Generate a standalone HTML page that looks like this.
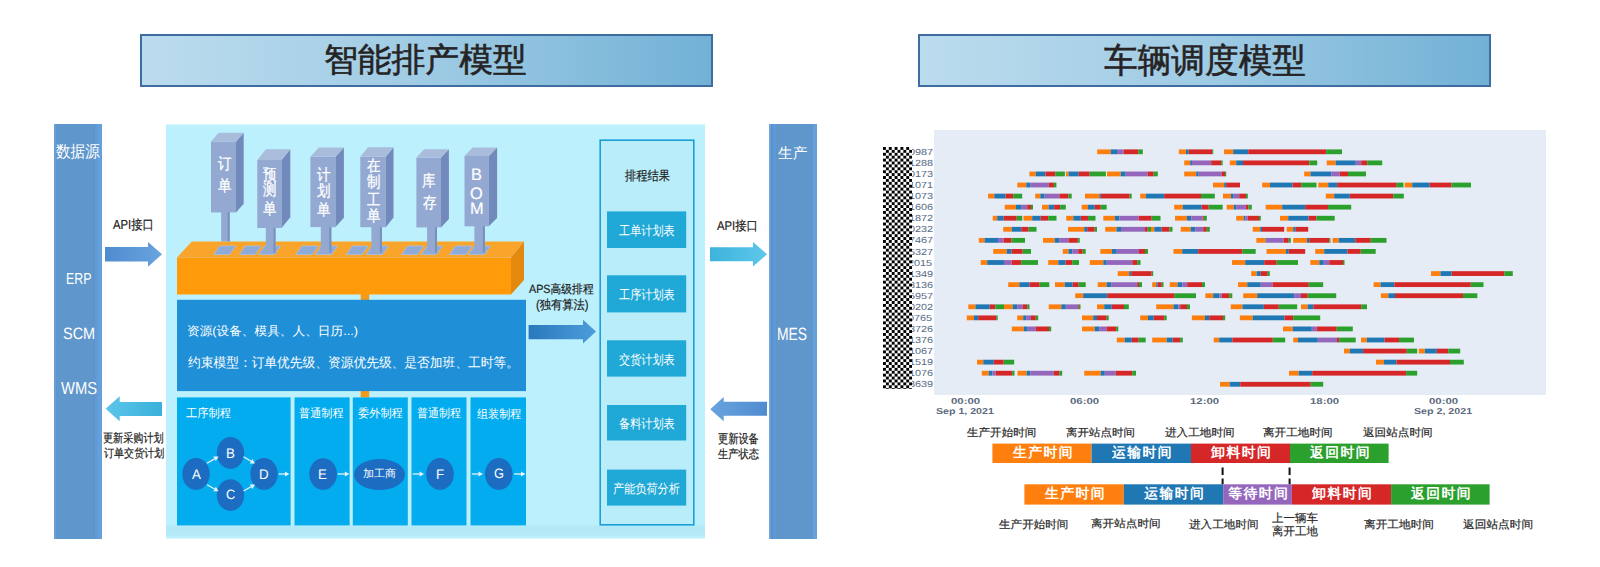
<!DOCTYPE html>
<html><head><meta charset="utf-8"><title>model</title>
<style>
html,body{margin:0;padding:0;background:#fff;}
body{width:1600px;height:567px;overflow:hidden;position:relative;font-family:"Liberation Sans",sans-serif;text-rendering:geometricPrecision;}
.a{position:absolute;white-space:nowrap;}
.w{color:#fff;}
.k{color:#222;}
.ttl{position:absolute;box-sizing:border-box;border:2px solid #3d6e9f;background:linear-gradient(90deg,#bcdcee 0%,#9fcbe4 50%,#72b1d6 100%);color:#262324;font-size:34px;line-height:49px;text-align:center;}
.vt{position:absolute;color:#fff;font-size:15px;line-height:15px;text-align:center;}
.vt span{display:block;}
.hd{font-size:13px;line-height:13px;color:#fff;}
.rb{position:absolute;background:#27a7d8;color:#fff;font-size:13px;text-align:center;}
.sm{font-size:12px;line-height:12px;color:#222;}
.ax{font-size:11px;line-height:11px;color:#5b6b80;font-weight:bold;}
.yl{font-size:10.5px;line-height:10px;color:#55667f;}
.lg{position:absolute;color:#fff;font-weight:bold;font-size:15px;line-height:20px;text-align:center;}
.ll{font-size:12px;line-height:12px;color:#2a2a2a;}
</style></head><body>

<div class="ttl" style="left:140px;top:34px;width:573px;height:53px"></div>
<div class="ttl" style="left:918px;top:34px;width:573px;height:53px"></div>
<svg class="a" style="left:0;top:0" width="1600" height="567" viewBox="0 0 1600 567">
<defs>
<linearGradient id="gA" x1="0" x2="1" y1="0" y2="0"><stop offset="0" stop-color="#4f8bcf"/><stop offset="1" stop-color="#69a4df"/></linearGradient>
<linearGradient id="gC" x1="0" x2="1" y1="0" y2="0"><stop offset="0" stop-color="#3db3dc"/><stop offset="1" stop-color="#5ec8ea"/></linearGradient>
<linearGradient id="gCL" x1="0" x2="1" y1="0" y2="0"><stop offset="0" stop-color="#5cc6ea"/><stop offset="1" stop-color="#3ab0da"/></linearGradient>
<linearGradient id="gAL" x1="0" x2="1" y1="0" y2="0"><stop offset="0" stop-color="#69a4df"/><stop offset="1" stop-color="#4f8bcf"/></linearGradient>
<linearGradient id="gAPS" x1="0" x2="1" y1="0" y2="0"><stop offset="0" stop-color="#2a78bd"/><stop offset="1" stop-color="#4d9ddb"/></linearGradient>
</defs>
<rect x="54" y="124" width="48" height="415" fill="#5f96cb"/>
<rect x="54" y="124" width="2" height="415" fill="#6a9fd6"/>
<rect x="93.4" y="124" width="1.2" height="415" fill="#6d8fb6"/>
<rect x="94.6" y="124" width="2.6" height="415" fill="#5a9ae0"/>
<rect x="97.2" y="124" width="4.8" height="415" fill="#66a0d8"/>
<rect x="769" y="124" width="48" height="415" fill="#5f96cb"/>
<rect x="769" y="124" width="2" height="415" fill="#6aa6dc"/>
<rect x="771" y="124" width="2" height="415" fill="#5b90c8"/>
<rect x="773" y="124" width="3" height="415" fill="#5a9ae0"/>
<rect x="776" y="124" width="1" height="415" fill="#7090b0"/>
<rect x="813" y="124" width="4" height="415" fill="#66a0da"/>
<rect x="166" y="124.5" width="539" height="414" fill="#bcf0fd"/>
<polygon points="105,247 148,247 148,241.9 162,254.35 148,266.8 148,261.6 105,261.6" fill="url(#gA)"/>
<polygon points="710,247.2 753,247.2 753,241.9 767,254.25 753,266.6 753,261.3 710,261.3" fill="url(#gC)"/>
<polygon points="162,402 119.7,402 119.7,396.3 105.6,408.8 119.7,421.3 119.7,416 162,416" fill="url(#gCL)"/>
<polygon points="767,401.8 723.7,401.8 723.7,397 710.2,409.15 723.7,421.3 723.7,415.7 767,415.7" fill="url(#gAL)"/>
<polygon points="528.6,325 583,325 583,319.7 596,331.6 583,343.5 583,339.3 528.6,339.3" fill="url(#gAPS)"/>
<rect x="166" y="525.5" width="539" height="10" fill="#b1e5f4" opacity="0.7"/>
<polygon points="191.8,241.4 524,241.4 511,257.5 177,257.5" fill="#f9a52c"/>
<rect x="177" y="257.5" width="334" height="37" fill="#ff9b0b"/>
<polygon points="511,257.5 524,241.4 524,280 511,294.5" fill="#e2890e"/>
<polygon points="213.8,254.5 219.8,246 235.7,246 229.7,254.5" fill="#8eaad9" stroke="#a9c0e6" stroke-width="0.8"/>
<polygon points="239.4,254.5 245.4,246 261.2,246 255.2,254.5" fill="#8eaad9" stroke="#a9c0e6" stroke-width="0.8"/>
<polygon points="258.8,254.5 264.8,246 280.5,246 274.5,254.5" fill="#8eaad9" stroke="#a9c0e6" stroke-width="0.8"/>
<polygon points="295.9,254.5 301.9,246 318.3,246 312.3,254.5" fill="#8eaad9" stroke="#a9c0e6" stroke-width="0.8"/>
<polygon points="315.6,254.5 321.6,246 337.5,246 331.5,254.5" fill="#8eaad9" stroke="#a9c0e6" stroke-width="0.8"/>
<polygon points="346.4,254.5 352.4,246 368,246 362,254.5" fill="#8eaad9" stroke="#a9c0e6" stroke-width="0.8"/>
<polygon points="366.1,254.5 372.1,246 388.5,246 382.5,254.5" fill="#8eaad9" stroke="#a9c0e6" stroke-width="0.8"/>
<polygon points="401.5,254.5 407.5,246 423.5,246 417.5,254.5" fill="#8eaad9" stroke="#a9c0e6" stroke-width="0.8"/>
<polygon points="421.2,254.5 427.2,246 442.5,246 436.5,254.5" fill="#8eaad9" stroke="#a9c0e6" stroke-width="0.8"/>
<polygon points="449.4,254.5 455.4,246 472,246 466,254.5" fill="#8eaad9" stroke="#a9c0e6" stroke-width="0.8"/>
<polygon points="468.5,254.5 474.5,246 490.5,246 484.5,254.5" fill="#8eaad9" stroke="#a9c0e6" stroke-width="0.8"/>
<rect x="221.2" y="210.4" width="8.5" height="31" fill="#93a9d2"/>
<rect x="227.7" y="210.4" width="2" height="31" fill="#7890c0"/>
<rect x="265.8" y="226" width="9.7" height="26.9" fill="#93a9d2"/>
<rect x="273.5" y="226" width="2" height="26.9" fill="#7890c0"/>
<rect x="320.8" y="225.1" width="10.5" height="27.5" fill="#93a9d2"/>
<rect x="329.3" y="225.1" width="2" height="27.5" fill="#7890c0"/>
<rect x="371.4" y="225.2" width="10.5" height="27.4" fill="#93a9d2"/>
<rect x="379.9" y="225.2" width="2" height="27.4" fill="#7890c0"/>
<rect x="427.1" y="225.4" width="9.9" height="27.2" fill="#93a9d2"/>
<rect x="435" y="225.4" width="2" height="27.2" fill="#7890c0"/>
<rect x="474.4" y="224.3" width="10.5" height="28.3" fill="#93a9d2"/>
<rect x="482.9" y="224.3" width="2" height="28.3" fill="#7890c0"/>
<rect x="211" y="141.5" width="25" height="70.9" fill="#93a9d2"/>
<polygon points="236,141.5 243.7,132.8 243.7,203.7 236,212.4" fill="#7289bc"/>
<polygon points="211,141.5 218.7,132.8 243.7,132.8 236,141.5" fill="#a9bcdc"/>
<rect x="257.3" y="160" width="24.3" height="68" fill="#93a9d2"/>
<polygon points="281.6,160 290.3,149.3 290.3,217.3 281.6,228" fill="#7289bc"/>
<polygon points="257.3,160 266,149.3 290.3,149.3 281.6,160" fill="#a9bcdc"/>
<rect x="310.4" y="156.8" width="25.1" height="70.3" fill="#93a9d2"/>
<polygon points="335.5,156.8 343.9,147.5 343.9,217.8 335.5,227.1" fill="#7289bc"/>
<polygon points="310.4,156.8 318.8,147.5 343.9,147.5 335.5,156.8" fill="#a9bcdc"/>
<rect x="360.3" y="156.8" width="25.5" height="70.4" fill="#93a9d2"/>
<polygon points="385.8,156.8 393.5,147.2 393.5,217.6 385.8,227.2" fill="#7289bc"/>
<polygon points="360.3,156.8 368,147.2 393.5,147.2 385.8,156.8" fill="#a9bcdc"/>
<rect x="416.4" y="157.6" width="24.6" height="69.8" fill="#93a9d2"/>
<polygon points="441,157.6 448.9,149.2 448.9,219 441,227.4" fill="#7289bc"/>
<polygon points="416.4,157.6 424.3,149.2 448.9,149.2 441,157.6" fill="#a9bcdc"/>
<rect x="464.5" y="155.9" width="24.3" height="70.4" fill="#93a9d2"/>
<polygon points="488.8,155.9 497.1,147.5 497.1,217.9 488.8,226.3" fill="#7289bc"/>
<polygon points="464.5,155.9 472.8,147.5 497.1,147.5 488.8,155.9" fill="#a9bcdc"/>
<rect x="360.7" y="294" width="8.5" height="6" fill="#f39a1a"/>
<rect x="360.7" y="391" width="8.5" height="6.5" fill="#f39a1a"/>
<rect x="177" y="299.8" width="349" height="91.3" fill="#1f8fd7"/>
<rect x="177" y="397.4" width="113.6" height="128" fill="#03acee"/>
<rect x="294.5" y="397.4" width="55.1" height="128" fill="#03acee"/>
<rect x="352.8" y="397.4" width="55" height="128" fill="#03acee"/>
<rect x="411.5" y="397.4" width="55" height="128" fill="#03acee"/>
<rect x="470.5" y="397.4" width="55.5" height="128" fill="#03acee"/>
<rect x="600.2" y="140.2" width="93.6" height="384.6" fill="#b9edfa" stroke="#1a9fd6" stroke-width="1.6"/>
<rect x="607" y="211.4" width="79.2" height="36.6" fill="#20a9d7"/>
<rect x="607" y="275.3" width="79.2" height="37.1" fill="#20a9d7"/>
<rect x="607" y="340.3" width="79.2" height="36.3" fill="#20a9d7"/>
<rect x="607" y="405" width="79.2" height="35.5" fill="#20a9d7"/>
<rect x="607" y="469.6" width="79.2" height="36" fill="#20a9d7"/>
<ellipse cx="196" cy="474" rx="13.7" ry="15.9" fill="#1c6cc1"/>
<ellipse cx="230.5" cy="453" rx="13.7" ry="15.9" fill="#1c6cc1"/>
<ellipse cx="230.5" cy="495.1" rx="13.7" ry="15.9" fill="#1c6cc1"/>
<ellipse cx="264" cy="474" rx="13.7" ry="15.9" fill="#1c6cc1"/>
<ellipse cx="323.1" cy="474.1" rx="13.8" ry="15.9" fill="#1c6cc1"/>
<ellipse cx="379.5" cy="474.5" rx="25.5" ry="15.4" fill="#1c6cc1"/>
<ellipse cx="440" cy="474" rx="13.8" ry="15.9" fill="#1c6cc1"/>
<ellipse cx="498.8" cy="474" rx="13.8" ry="15.9" fill="#1c6cc1"/>
<line x1="207" y1="463.2" x2="214.6" y2="458.84" stroke="#e8f4ff" stroke-width="1.3"/><polygon points="218.5,456.6 215.89,461.09 213.3,456.58" fill="#e8f4ff"/>
<line x1="207" y1="484.8" x2="214.57" y2="489.01" stroke="#e8f4ff" stroke-width="1.3"/><polygon points="218.5,491.2 213.3,491.28 215.83,486.74" fill="#e8f4ff"/>
<line x1="243.5" y1="456.8" x2="251.11" y2="461.23" stroke="#e8f4ff" stroke-width="1.3"/><polygon points="255,463.5 249.8,463.48 252.42,458.99" fill="#e8f4ff"/>
<line x1="243.5" y1="491" x2="251.07" y2="486.79" stroke="#e8f4ff" stroke-width="1.3"/><polygon points="255,484.6 252.33,489.06 249.8,484.52" fill="#e8f4ff"/>
<line x1="278.7" y1="474" x2="284.9" y2="474" stroke="#e8f4ff" stroke-width="1.3"/><polygon points="289.4,474 284.9,476.6 284.9,471.4" fill="#e8f4ff"/>
<line x1="337.7" y1="474" x2="344.8" y2="474" stroke="#e8f4ff" stroke-width="1.3"/><polygon points="349.3,474 344.8,476.6 344.8,471.4" fill="#e8f4ff"/>
<line x1="412.8" y1="474" x2="419.5" y2="474" stroke="#e8f4ff" stroke-width="1.3"/><polygon points="424,474 419.5,476.6 419.5,471.4" fill="#e8f4ff"/>
<line x1="471.8" y1="474" x2="478.5" y2="474" stroke="#e8f4ff" stroke-width="1.3"/><polygon points="483,474 478.5,476.6 478.5,471.4" fill="#e8f4ff"/>
<line x1="514" y1="474" x2="521" y2="474" stroke="#e8f4ff" stroke-width="1.3"/><polygon points="525.5,474 521,476.6 521,471.4" fill="#e8f4ff"/>
<rect x="934" y="130" width="612" height="265" fill="#e5ecf6"/>
<rect x="1097.2" y="149.4" width="13.5" height="4.8" fill="#ff7f0e"/>
<rect x="1110.7" y="149.4" width="6.3" height="4.8" fill="#1f77b4"/>
<rect x="1117" y="149.4" width="6.7" height="4.8" fill="#9467bd"/>
<rect x="1123.7" y="149.4" width="14.6" height="4.8" fill="#d62728"/>
<rect x="1138.3" y="149.4" width="4.5" height="4.8" fill="#2ca02c"/>
<rect x="1178.8" y="149.4" width="7.2" height="4.8" fill="#ff7f0e"/>
<rect x="1186" y="149.4" width="2.7" height="4.8" fill="#1f77b4"/>
<rect x="1188.7" y="149.4" width="23.5" height="4.8" fill="#d62728"/>
<rect x="1212.2" y="149.4" width="1.1" height="4.8" fill="#2ca02c"/>
<rect x="1224" y="149.4" width="9.2" height="4.8" fill="#ff7f0e"/>
<rect x="1233.2" y="149.4" width="15" height="4.8" fill="#1f77b4"/>
<rect x="1248.2" y="149.4" width="78" height="4.8" fill="#d62728"/>
<rect x="1326.2" y="149.4" width="15.8" height="4.8" fill="#2ca02c"/>
<rect x="1184.2" y="160.47" width="6" height="4.8" fill="#ff7f0e"/>
<rect x="1190.2" y="160.47" width="1.8" height="4.8" fill="#1f77b4"/>
<rect x="1192" y="160.47" width="19.2" height="4.8" fill="#9467bd"/>
<rect x="1211.2" y="160.47" width="10" height="4.8" fill="#d62728"/>
<rect x="1221.2" y="160.47" width="1.5" height="4.8" fill="#2ca02c"/>
<rect x="1229.8" y="160.47" width="6.4" height="4.8" fill="#ff7f0e"/>
<rect x="1236.2" y="160.47" width="6.8" height="4.8" fill="#1f77b4"/>
<rect x="1243" y="160.47" width="66.3" height="4.8" fill="#d62728"/>
<rect x="1309.3" y="160.47" width="7.9" height="4.8" fill="#2ca02c"/>
<rect x="1326.7" y="160.47" width="9" height="4.8" fill="#ff7f0e"/>
<rect x="1335.7" y="160.47" width="20.1" height="4.8" fill="#1f77b4"/>
<rect x="1355.8" y="160.47" width="5.4" height="4.8" fill="#9467bd"/>
<rect x="1361.2" y="160.47" width="6" height="4.8" fill="#d62728"/>
<rect x="1367.2" y="160.47" width="15" height="4.8" fill="#2ca02c"/>
<rect x="1029.4" y="171.54" width="6.3" height="4.8" fill="#ff7f0e"/>
<rect x="1035.7" y="171.54" width="9.7" height="4.8" fill="#1f77b4"/>
<rect x="1045.4" y="171.54" width="9.9" height="4.8" fill="#d62728"/>
<rect x="1055.3" y="171.54" width="9.6" height="4.8" fill="#2ca02c"/>
<rect x="1065.9" y="171.54" width="2.7" height="4.8" fill="#ff7f0e"/>
<rect x="1068.6" y="171.54" width="10.1" height="4.8" fill="#1f77b4"/>
<rect x="1078.7" y="171.54" width="11" height="4.8" fill="#d62728"/>
<rect x="1089.7" y="171.54" width="16.2" height="4.8" fill="#2ca02c"/>
<rect x="1107" y="171.54" width="13.7" height="4.8" fill="#ff7f0e"/>
<rect x="1120.7" y="171.54" width="5" height="4.8" fill="#1f77b4"/>
<rect x="1125.7" y="171.54" width="22" height="4.8" fill="#9467bd"/>
<rect x="1147.7" y="171.54" width="6" height="4.8" fill="#d62728"/>
<rect x="1153.7" y="171.54" width="4.1" height="4.8" fill="#2ca02c"/>
<rect x="1184.2" y="171.54" width="12" height="4.8" fill="#ff7f0e"/>
<rect x="1196.2" y="171.54" width="2.5" height="4.8" fill="#1f77b4"/>
<rect x="1198.7" y="171.54" width="23" height="4.8" fill="#9467bd"/>
<rect x="1221.7" y="171.54" width="3.3" height="4.8" fill="#d62728"/>
<rect x="1225" y="171.54" width="1.2" height="4.8" fill="#2ca02c"/>
<rect x="1304.2" y="171.54" width="6.3" height="4.8" fill="#ff7f0e"/>
<rect x="1310.5" y="171.54" width="20.7" height="4.8" fill="#1f77b4"/>
<rect x="1331.2" y="171.54" width="8.5" height="4.8" fill="#9467bd"/>
<rect x="1339.7" y="171.54" width="8.3" height="4.8" fill="#d62728"/>
<rect x="1348" y="171.54" width="18" height="4.8" fill="#2ca02c"/>
<rect x="1017.3" y="182.61" width="9" height="4.8" fill="#ff7f0e"/>
<rect x="1026.3" y="182.61" width="4.3" height="4.8" fill="#1f77b4"/>
<rect x="1030.6" y="182.61" width="18.2" height="4.8" fill="#9467bd"/>
<rect x="1048.8" y="182.61" width="5.1" height="4.8" fill="#d62728"/>
<rect x="1053.9" y="182.61" width="2.5" height="4.8" fill="#2ca02c"/>
<rect x="1213" y="182.61" width="11.2" height="4.8" fill="#ff7f0e"/>
<rect x="1224.2" y="182.61" width="2" height="4.8" fill="#1f77b4"/>
<rect x="1226.2" y="182.61" width="13.8" height="4.8" fill="#d62728"/>
<rect x="1262.2" y="182.61" width="7.8" height="4.8" fill="#ff7f0e"/>
<rect x="1270" y="182.61" width="22.5" height="4.8" fill="#1f77b4"/>
<rect x="1292.5" y="182.61" width="8.7" height="4.8" fill="#d62728"/>
<rect x="1301.2" y="182.61" width="15.3" height="4.8" fill="#2ca02c"/>
<rect x="1318.3" y="182.61" width="9.9" height="4.8" fill="#ff7f0e"/>
<rect x="1328.2" y="182.61" width="9" height="4.8" fill="#1f77b4"/>
<rect x="1337.2" y="182.61" width="59.5" height="4.8" fill="#d62728"/>
<rect x="1396.7" y="182.61" width="6.8" height="4.8" fill="#2ca02c"/>
<rect x="1404.7" y="182.61" width="7.5" height="4.8" fill="#ff7f0e"/>
<rect x="1412.2" y="182.61" width="17.5" height="4.8" fill="#1f77b4"/>
<rect x="1429.7" y="182.61" width="21.8" height="4.8" fill="#d62728"/>
<rect x="1451.5" y="182.61" width="19.5" height="4.8" fill="#2ca02c"/>
<rect x="988.1" y="193.68" width="6.2" height="4.8" fill="#ff7f0e"/>
<rect x="994.3" y="193.68" width="11.2" height="4.8" fill="#1f77b4"/>
<rect x="1005.5" y="193.68" width="7.7" height="4.8" fill="#d62728"/>
<rect x="1013.2" y="193.68" width="9" height="4.8" fill="#2ca02c"/>
<rect x="1035.2" y="193.68" width="5.1" height="4.8" fill="#ff7f0e"/>
<rect x="1040.3" y="193.68" width="4.4" height="4.8" fill="#1f77b4"/>
<rect x="1044.7" y="193.68" width="14.7" height="4.8" fill="#9467bd"/>
<rect x="1059.4" y="193.68" width="9.2" height="4.8" fill="#d62728"/>
<rect x="1068.6" y="193.68" width="3.1" height="4.8" fill="#2ca02c"/>
<rect x="1085" y="193.68" width="14.3" height="4.8" fill="#ff7f0e"/>
<rect x="1099.3" y="193.68" width="1.5" height="4.8" fill="#1f77b4"/>
<rect x="1100.8" y="193.68" width="28.9" height="4.8" fill="#d62728"/>
<rect x="1129.7" y="193.68" width="2" height="4.8" fill="#2ca02c"/>
<rect x="1140.2" y="193.68" width="5.6" height="4.8" fill="#ff7f0e"/>
<rect x="1145.8" y="193.68" width="18.4" height="4.8" fill="#1f77b4"/>
<rect x="1164.2" y="193.68" width="36.8" height="4.8" fill="#d62728"/>
<rect x="1201" y="193.68" width="13.8" height="4.8" fill="#2ca02c"/>
<rect x="1223" y="193.68" width="8" height="4.8" fill="#ff7f0e"/>
<rect x="1231" y="193.68" width="2.7" height="4.8" fill="#1f77b4"/>
<rect x="1233.7" y="193.68" width="5.5" height="4.8" fill="#9467bd"/>
<rect x="1239.2" y="193.68" width="6.8" height="4.8" fill="#d62728"/>
<rect x="1246" y="193.68" width="1.8" height="4.8" fill="#2ca02c"/>
<rect x="1325.8" y="193.68" width="8.4" height="4.8" fill="#ff7f0e"/>
<rect x="1334.2" y="193.68" width="15.6" height="4.8" fill="#1f77b4"/>
<rect x="1349.8" y="193.68" width="43.5" height="4.8" fill="#d62728"/>
<rect x="1393.3" y="193.68" width="10.5" height="4.8" fill="#2ca02c"/>
<rect x="1004.7" y="204.75" width="11.3" height="4.8" fill="#ff7f0e"/>
<rect x="1016" y="204.75" width="5.7" height="4.8" fill="#1f77b4"/>
<rect x="1021.7" y="204.75" width="5.5" height="4.8" fill="#9467bd"/>
<rect x="1027.2" y="204.75" width="3.8" height="4.8" fill="#d62728"/>
<rect x="1031" y="204.75" width="2" height="4.8" fill="#2ca02c"/>
<rect x="1042" y="204.75" width="6.7" height="4.8" fill="#ff7f0e"/>
<rect x="1048.7" y="204.75" width="5.5" height="4.8" fill="#1f77b4"/>
<rect x="1054.2" y="204.75" width="6" height="4.8" fill="#d62728"/>
<rect x="1060.2" y="204.75" width="5.6" height="4.8" fill="#2ca02c"/>
<rect x="1081.7" y="204.75" width="6.3" height="4.8" fill="#ff7f0e"/>
<rect x="1088" y="204.75" width="6.7" height="4.8" fill="#1f77b4"/>
<rect x="1094.7" y="204.75" width="6" height="4.8" fill="#d62728"/>
<rect x="1100.7" y="204.75" width="6" height="4.8" fill="#2ca02c"/>
<rect x="1174.2" y="204.75" width="8.6" height="4.8" fill="#ff7f0e"/>
<rect x="1182.8" y="204.75" width="18.9" height="4.8" fill="#1f77b4"/>
<rect x="1201.7" y="204.75" width="7" height="4.8" fill="#d62728"/>
<rect x="1208.7" y="204.75" width="14" height="4.8" fill="#2ca02c"/>
<rect x="1226.7" y="204.75" width="7.1" height="4.8" fill="#ff7f0e"/>
<rect x="1233.8" y="204.75" width="2.4" height="4.8" fill="#1f77b4"/>
<rect x="1236.2" y="204.75" width="9.6" height="4.8" fill="#9467bd"/>
<rect x="1245.8" y="204.75" width="2.7" height="4.8" fill="#d62728"/>
<rect x="1248.5" y="204.75" width="3.3" height="4.8" fill="#2ca02c"/>
<rect x="1265.7" y="204.75" width="16.5" height="4.8" fill="#ff7f0e"/>
<rect x="1282.2" y="204.75" width="23" height="4.8" fill="#1f77b4"/>
<rect x="1305.2" y="204.75" width="22.8" height="4.8" fill="#d62728"/>
<rect x="1328" y="204.75" width="23.2" height="4.8" fill="#2ca02c"/>
<rect x="992.7" y="215.82" width="4.5" height="4.8" fill="#ff7f0e"/>
<rect x="997.2" y="215.82" width="6.5" height="4.8" fill="#1f77b4"/>
<rect x="1003.7" y="215.82" width="13" height="4.8" fill="#d62728"/>
<rect x="1016.7" y="215.82" width="5.6" height="4.8" fill="#2ca02c"/>
<rect x="1023.5" y="215.82" width="8.7" height="4.8" fill="#ff7f0e"/>
<rect x="1032.2" y="215.82" width="8.5" height="4.8" fill="#1f77b4"/>
<rect x="1040.7" y="215.82" width="7.5" height="4.8" fill="#d62728"/>
<rect x="1048.2" y="215.82" width="8.3" height="4.8" fill="#2ca02c"/>
<rect x="1066.2" y="215.82" width="7.1" height="4.8" fill="#ff7f0e"/>
<rect x="1073.3" y="215.82" width="7.5" height="4.8" fill="#1f77b4"/>
<rect x="1080.8" y="215.82" width="7.2" height="4.8" fill="#d62728"/>
<rect x="1088" y="215.82" width="7.5" height="4.8" fill="#2ca02c"/>
<rect x="1103.3" y="215.82" width="11.7" height="4.8" fill="#ff7f0e"/>
<rect x="1115" y="215.82" width="4.5" height="4.8" fill="#1f77b4"/>
<rect x="1119.5" y="215.82" width="19.2" height="4.8" fill="#9467bd"/>
<rect x="1138.7" y="215.82" width="13" height="4.8" fill="#d62728"/>
<rect x="1151.7" y="215.82" width="8.8" height="4.8" fill="#2ca02c"/>
<rect x="1175" y="215.82" width="12" height="4.8" fill="#ff7f0e"/>
<rect x="1187" y="215.82" width="4.2" height="4.8" fill="#1f77b4"/>
<rect x="1191.2" y="215.82" width="11.5" height="4.8" fill="#9467bd"/>
<rect x="1202.7" y="215.82" width="1.1" height="4.8" fill="#d62728"/>
<rect x="1203.8" y="215.82" width="3" height="4.8" fill="#2ca02c"/>
<rect x="1236.2" y="215.82" width="7.5" height="4.8" fill="#ff7f0e"/>
<rect x="1243.7" y="215.82" width="1.5" height="4.8" fill="#1f77b4"/>
<rect x="1245.2" y="215.82" width="2.5" height="4.8" fill="#9467bd"/>
<rect x="1247.7" y="215.82" width="11.3" height="4.8" fill="#d62728"/>
<rect x="1259" y="215.82" width="1.8" height="4.8" fill="#2ca02c"/>
<rect x="1280" y="215.82" width="8.2" height="4.8" fill="#ff7f0e"/>
<rect x="1288.2" y="215.82" width="20.3" height="4.8" fill="#1f77b4"/>
<rect x="1308.5" y="215.82" width="7.8" height="4.8" fill="#d62728"/>
<rect x="1316.3" y="215.82" width="18.4" height="4.8" fill="#2ca02c"/>
<rect x="1003.2" y="226.89" width="8.6" height="4.8" fill="#ff7f0e"/>
<rect x="1011.8" y="226.89" width="9.4" height="4.8" fill="#1f77b4"/>
<rect x="1021.2" y="226.89" width="7.5" height="4.8" fill="#d62728"/>
<rect x="1028.7" y="226.89" width="7.8" height="4.8" fill="#2ca02c"/>
<rect x="1068" y="226.89" width="16.2" height="4.8" fill="#ff7f0e"/>
<rect x="1084.2" y="226.89" width="3" height="4.8" fill="#1f77b4"/>
<rect x="1087.2" y="226.89" width="7.5" height="4.8" fill="#d62728"/>
<rect x="1094.7" y="226.89" width="2.3" height="4.8" fill="#2ca02c"/>
<rect x="1105.2" y="226.89" width="11.3" height="4.8" fill="#ff7f0e"/>
<rect x="1116.5" y="226.89" width="4.5" height="4.8" fill="#1f77b4"/>
<rect x="1121" y="226.89" width="24" height="4.8" fill="#9467bd"/>
<rect x="1145" y="226.89" width="2.7" height="4.8" fill="#d62728"/>
<rect x="1147.7" y="226.89" width="3.3" height="4.8" fill="#2ca02c"/>
<rect x="1151" y="226.89" width="3.3" height="4.8" fill="#ff7f0e"/>
<rect x="1154.3" y="226.89" width="7.2" height="4.8" fill="#1f77b4"/>
<rect x="1161.5" y="226.89" width="8" height="4.8" fill="#d62728"/>
<rect x="1169.5" y="226.89" width="3" height="4.8" fill="#2ca02c"/>
<rect x="1180.7" y="226.89" width="10" height="4.8" fill="#ff7f0e"/>
<rect x="1190.7" y="226.89" width="4.5" height="4.8" fill="#1f77b4"/>
<rect x="1195.2" y="226.89" width="8" height="4.8" fill="#9467bd"/>
<rect x="1203.2" y="226.89" width="3.6" height="4.8" fill="#d62728"/>
<rect x="1206.8" y="226.89" width="3" height="4.8" fill="#2ca02c"/>
<rect x="1252.7" y="226.89" width="7.5" height="4.8" fill="#ff7f0e"/>
<rect x="1260.2" y="226.89" width="1.8" height="4.8" fill="#1f77b4"/>
<rect x="1262" y="226.89" width="22.2" height="4.8" fill="#d62728"/>
<rect x="1286.7" y="226.89" width="6.5" height="4.8" fill="#ff7f0e"/>
<rect x="1293.2" y="226.89" width="2.5" height="4.8" fill="#1f77b4"/>
<rect x="1295.7" y="226.89" width="12.5" height="4.8" fill="#d62728"/>
<rect x="978.8" y="237.96" width="5.7" height="4.8" fill="#ff7f0e"/>
<rect x="984.5" y="237.96" width="13.5" height="4.8" fill="#1f77b4"/>
<rect x="998" y="237.96" width="5.7" height="4.8" fill="#9467bd"/>
<rect x="1003.7" y="237.96" width="7.8" height="4.8" fill="#d62728"/>
<rect x="1011.5" y="237.96" width="13.5" height="4.8" fill="#2ca02c"/>
<rect x="1043" y="237.96" width="11.7" height="4.8" fill="#ff7f0e"/>
<rect x="1054.7" y="237.96" width="4.5" height="4.8" fill="#1f77b4"/>
<rect x="1059.2" y="237.96" width="9.3" height="4.8" fill="#9467bd"/>
<rect x="1068.5" y="237.96" width="9.3" height="4.8" fill="#d62728"/>
<rect x="1077.8" y="237.96" width="1.9" height="4.8" fill="#2ca02c"/>
<rect x="1256.3" y="237.96" width="9.4" height="4.8" fill="#ff7f0e"/>
<rect x="1265.7" y="237.96" width="1.1" height="4.8" fill="#1f77b4"/>
<rect x="1266.8" y="237.96" width="16.9" height="4.8" fill="#9467bd"/>
<rect x="1283.7" y="237.96" width="5" height="4.8" fill="#d62728"/>
<rect x="1288.7" y="237.96" width="2.1" height="4.8" fill="#2ca02c"/>
<rect x="1293.2" y="237.96" width="13.8" height="4.8" fill="#ff7f0e"/>
<rect x="1307" y="237.96" width="2.2" height="4.8" fill="#1f77b4"/>
<rect x="1309.2" y="237.96" width="20.3" height="4.8" fill="#d62728"/>
<rect x="1329.5" y="237.96" width="1" height="4.8" fill="#2ca02c"/>
<rect x="1332.5" y="237.96" width="6.3" height="4.8" fill="#ff7f0e"/>
<rect x="1338.8" y="237.96" width="16.5" height="4.8" fill="#1f77b4"/>
<rect x="1355.3" y="237.96" width="15.4" height="4.8" fill="#d62728"/>
<rect x="1370.7" y="237.96" width="15.8" height="4.8" fill="#2ca02c"/>
<rect x="993.2" y="249.03" width="13.5" height="4.8" fill="#ff7f0e"/>
<rect x="1006.7" y="249.03" width="4.8" height="4.8" fill="#1f77b4"/>
<rect x="1011.5" y="249.03" width="11.2" height="4.8" fill="#d62728"/>
<rect x="1022.7" y="249.03" width="8.3" height="4.8" fill="#2ca02c"/>
<rect x="1062.8" y="249.03" width="5.7" height="4.8" fill="#ff7f0e"/>
<rect x="1068.5" y="249.03" width="3.7" height="4.8" fill="#1f77b4"/>
<rect x="1072.2" y="249.03" width="6" height="4.8" fill="#9467bd"/>
<rect x="1078.2" y="249.03" width="4.5" height="4.8" fill="#d62728"/>
<rect x="1082.7" y="249.03" width="3" height="4.8" fill="#2ca02c"/>
<rect x="1100.3" y="249.03" width="11.7" height="4.8" fill="#ff7f0e"/>
<rect x="1112" y="249.03" width="4.8" height="4.8" fill="#1f77b4"/>
<rect x="1116.8" y="249.03" width="22.2" height="4.8" fill="#9467bd"/>
<rect x="1139" y="249.03" width="6" height="4.8" fill="#d62728"/>
<rect x="1145" y="249.03" width="3" height="4.8" fill="#2ca02c"/>
<rect x="1173.5" y="249.03" width="8.7" height="4.8" fill="#ff7f0e"/>
<rect x="1182.2" y="249.03" width="16" height="4.8" fill="#1f77b4"/>
<rect x="1198.2" y="249.03" width="44" height="4.8" fill="#d62728"/>
<rect x="1242.2" y="249.03" width="13.5" height="4.8" fill="#2ca02c"/>
<rect x="1266.5" y="249.03" width="19.5" height="4.8" fill="#ff7f0e"/>
<rect x="1286" y="249.03" width="2.7" height="4.8" fill="#1f77b4"/>
<rect x="1288.7" y="249.03" width="16.5" height="4.8" fill="#d62728"/>
<rect x="1315.2" y="249.03" width="9" height="4.8" fill="#ff7f0e"/>
<rect x="1324.2" y="249.03" width="23.3" height="4.8" fill="#1f77b4"/>
<rect x="1347.5" y="249.03" width="13.2" height="4.8" fill="#d62728"/>
<rect x="1360.7" y="249.03" width="15" height="4.8" fill="#2ca02c"/>
<rect x="980.7" y="260.1" width="6.5" height="4.8" fill="#ff7f0e"/>
<rect x="987.2" y="260.1" width="16.8" height="4.8" fill="#1f77b4"/>
<rect x="1004" y="260.1" width="7.5" height="4.8" fill="#9467bd"/>
<rect x="1011.5" y="260.1" width="9.7" height="4.8" fill="#d62728"/>
<rect x="1021.2" y="260.1" width="16.8" height="4.8" fill="#2ca02c"/>
<rect x="1048.2" y="260.1" width="10.1" height="4.8" fill="#ff7f0e"/>
<rect x="1058.3" y="260.1" width="7.2" height="4.8" fill="#1f77b4"/>
<rect x="1065.5" y="260.1" width="6.7" height="4.8" fill="#d62728"/>
<rect x="1072.2" y="260.1" width="6.8" height="4.8" fill="#2ca02c"/>
<rect x="1089.8" y="260.1" width="13.5" height="4.8" fill="#ff7f0e"/>
<rect x="1103.3" y="260.1" width="3.4" height="4.8" fill="#1f77b4"/>
<rect x="1106.7" y="260.1" width="25.5" height="4.8" fill="#9467bd"/>
<rect x="1132.2" y="260.1" width="5" height="4.8" fill="#d62728"/>
<rect x="1137.2" y="260.1" width="3.3" height="4.8" fill="#2ca02c"/>
<rect x="1232" y="260.1" width="13.2" height="4.8" fill="#ff7f0e"/>
<rect x="1245.2" y="260.1" width="19" height="4.8" fill="#1f77b4"/>
<rect x="1264.2" y="260.1" width="12.5" height="4.8" fill="#d62728"/>
<rect x="1276.7" y="260.1" width="21.3" height="4.8" fill="#2ca02c"/>
<rect x="1310.3" y="260.1" width="9" height="4.8" fill="#ff7f0e"/>
<rect x="1319.3" y="260.1" width="4.5" height="4.8" fill="#1f77b4"/>
<rect x="1323.8" y="260.1" width="5.4" height="4.8" fill="#9467bd"/>
<rect x="1329.2" y="260.1" width="13.8" height="4.8" fill="#d62728"/>
<rect x="1343" y="260.1" width="1.5" height="4.8" fill="#2ca02c"/>
<rect x="1117.7" y="271.17" width="11.5" height="4.8" fill="#ff7f0e"/>
<rect x="1129.2" y="271.17" width="2" height="4.8" fill="#1f77b4"/>
<rect x="1131.2" y="271.17" width="20.5" height="4.8" fill="#d62728"/>
<rect x="1151.7" y="271.17" width="1.5" height="4.8" fill="#2ca02c"/>
<rect x="1251.2" y="271.17" width="5.5" height="4.8" fill="#ff7f0e"/>
<rect x="1256.7" y="271.17" width="4.1" height="4.8" fill="#1f77b4"/>
<rect x="1260.8" y="271.17" width="6.9" height="4.8" fill="#d62728"/>
<rect x="1267.7" y="271.17" width="2.1" height="4.8" fill="#2ca02c"/>
<rect x="1431" y="271.17" width="9.5" height="4.8" fill="#ff7f0e"/>
<rect x="1440.5" y="271.17" width="11.2" height="4.8" fill="#1f77b4"/>
<rect x="1451.7" y="271.17" width="52.6" height="4.8" fill="#d62728"/>
<rect x="1504.3" y="271.17" width="8.5" height="4.8" fill="#2ca02c"/>
<rect x="1008.2" y="282.24" width="11.1" height="4.8" fill="#ff7f0e"/>
<rect x="1019.3" y="282.24" width="10.2" height="4.8" fill="#1f77b4"/>
<rect x="1029.5" y="282.24" width="10.2" height="4.8" fill="#d62728"/>
<rect x="1039.7" y="282.24" width="9.6" height="4.8" fill="#2ca02c"/>
<rect x="1055" y="282.24" width="9.7" height="4.8" fill="#ff7f0e"/>
<rect x="1064.7" y="282.24" width="8" height="4.8" fill="#1f77b4"/>
<rect x="1072.7" y="282.24" width="6" height="4.8" fill="#d62728"/>
<rect x="1078.7" y="282.24" width="7" height="4.8" fill="#2ca02c"/>
<rect x="1097.7" y="282.24" width="9" height="4.8" fill="#ff7f0e"/>
<rect x="1106.7" y="282.24" width="4.5" height="4.8" fill="#1f77b4"/>
<rect x="1111.2" y="282.24" width="26" height="4.8" fill="#9467bd"/>
<rect x="1137.2" y="282.24" width="1.8" height="4.8" fill="#d62728"/>
<rect x="1139" y="282.24" width="3" height="4.8" fill="#2ca02c"/>
<rect x="1152.2" y="282.24" width="4" height="4.8" fill="#ff7f0e"/>
<rect x="1156.2" y="282.24" width="1.5" height="4.8" fill="#1f77b4"/>
<rect x="1157.7" y="282.24" width="4.1" height="4.8" fill="#d62728"/>
<rect x="1161.8" y="282.24" width="1.7" height="4.8" fill="#2ca02c"/>
<rect x="1169.7" y="282.24" width="7.8" height="4.8" fill="#ff7f0e"/>
<rect x="1177.5" y="282.24" width="5" height="4.8" fill="#1f77b4"/>
<rect x="1182.5" y="282.24" width="4.7" height="4.8" fill="#9467bd"/>
<rect x="1187.2" y="282.24" width="14.8" height="4.8" fill="#d62728"/>
<rect x="1202" y="282.24" width="3" height="4.8" fill="#2ca02c"/>
<rect x="1238" y="282.24" width="9.3" height="4.8" fill="#ff7f0e"/>
<rect x="1247.3" y="282.24" width="13.5" height="4.8" fill="#1f77b4"/>
<rect x="1260.8" y="282.24" width="11.7" height="4.8" fill="#9467bd"/>
<rect x="1272.5" y="282.24" width="36.3" height="4.8" fill="#d62728"/>
<rect x="1308.8" y="282.24" width="14.4" height="4.8" fill="#2ca02c"/>
<rect x="1373.6" y="282.24" width="7" height="4.8" fill="#ff7f0e"/>
<rect x="1380.6" y="282.24" width="13.7" height="4.8" fill="#1f77b4"/>
<rect x="1394.3" y="282.24" width="76.5" height="4.8" fill="#d62728"/>
<rect x="1470.8" y="282.24" width="12.7" height="4.8" fill="#2ca02c"/>
<rect x="1075.2" y="293.31" width="8" height="4.8" fill="#ff7f0e"/>
<rect x="1083.2" y="293.31" width="24" height="4.8" fill="#1f77b4"/>
<rect x="1107.2" y="293.31" width="67" height="4.8" fill="#d62728"/>
<rect x="1174.2" y="293.31" width="21.8" height="4.8" fill="#2ca02c"/>
<rect x="1205.3" y="293.31" width="7.9" height="4.8" fill="#ff7f0e"/>
<rect x="1213.2" y="293.31" width="6" height="4.8" fill="#1f77b4"/>
<rect x="1219.2" y="293.31" width="2.6" height="4.8" fill="#9467bd"/>
<rect x="1221.8" y="293.31" width="7.5" height="4.8" fill="#d62728"/>
<rect x="1229.3" y="293.31" width="3" height="4.8" fill="#2ca02c"/>
<rect x="1243.2" y="293.31" width="14" height="4.8" fill="#ff7f0e"/>
<rect x="1257.2" y="293.31" width="37" height="4.8" fill="#1f77b4"/>
<rect x="1294.2" y="293.31" width="6.8" height="4.8" fill="#9467bd"/>
<rect x="1301" y="293.31" width="6.7" height="4.8" fill="#d62728"/>
<rect x="1307.7" y="293.31" width="28.5" height="4.8" fill="#2ca02c"/>
<rect x="1380.9" y="293.31" width="7.4" height="4.8" fill="#ff7f0e"/>
<rect x="1388.3" y="293.31" width="6.7" height="4.8" fill="#1f77b4"/>
<rect x="1395" y="293.31" width="68" height="4.8" fill="#d62728"/>
<rect x="1463" y="293.31" width="14.3" height="4.8" fill="#2ca02c"/>
<rect x="968.3" y="304.38" width="7.2" height="4.8" fill="#ff7f0e"/>
<rect x="975.5" y="304.38" width="14.2" height="4.8" fill="#1f77b4"/>
<rect x="989.7" y="304.38" width="5.6" height="4.8" fill="#d62728"/>
<rect x="995.3" y="304.38" width="8.7" height="4.8" fill="#2ca02c"/>
<rect x="1004" y="304.38" width="8.7" height="4.8" fill="#ff7f0e"/>
<rect x="1012.7" y="304.38" width="4.5" height="4.8" fill="#1f77b4"/>
<rect x="1017.2" y="304.38" width="5.5" height="4.8" fill="#9467bd"/>
<rect x="1022.7" y="304.38" width="4.5" height="4.8" fill="#d62728"/>
<rect x="1027.2" y="304.38" width="2.3" height="4.8" fill="#2ca02c"/>
<rect x="1048.7" y="304.38" width="12.6" height="4.8" fill="#ff7f0e"/>
<rect x="1061.3" y="304.38" width="4.5" height="4.8" fill="#1f77b4"/>
<rect x="1065.8" y="304.38" width="12.4" height="4.8" fill="#9467bd"/>
<rect x="1078.2" y="304.38" width="0.8" height="4.8" fill="#d62728"/>
<rect x="1079" y="304.38" width="1.5" height="4.8" fill="#2ca02c"/>
<rect x="1097" y="304.38" width="7.2" height="4.8" fill="#ff7f0e"/>
<rect x="1104.2" y="304.38" width="7.5" height="4.8" fill="#1f77b4"/>
<rect x="1111.7" y="304.38" width="12.3" height="4.8" fill="#d62728"/>
<rect x="1124" y="304.38" width="4.8" height="4.8" fill="#2ca02c"/>
<rect x="1156.2" y="304.38" width="17.3" height="4.8" fill="#ff7f0e"/>
<rect x="1173.5" y="304.38" width="4.8" height="4.8" fill="#1f77b4"/>
<rect x="1178.3" y="304.38" width="1.9" height="4.8" fill="#9467bd"/>
<rect x="1180.2" y="304.38" width="6.8" height="4.8" fill="#d62728"/>
<rect x="1187" y="304.38" width="3" height="4.8" fill="#2ca02c"/>
<rect x="1230.8" y="304.38" width="11.7" height="4.8" fill="#ff7f0e"/>
<rect x="1242.5" y="304.38" width="21.3" height="4.8" fill="#1f77b4"/>
<rect x="1263.8" y="304.38" width="15" height="4.8" fill="#d62728"/>
<rect x="1278.8" y="304.38" width="18.4" height="4.8" fill="#2ca02c"/>
<rect x="1301" y="304.38" width="6.7" height="4.8" fill="#ff7f0e"/>
<rect x="1307.7" y="304.38" width="5.6" height="4.8" fill="#1f77b4"/>
<rect x="1313.3" y="304.38" width="47.9" height="4.8" fill="#d62728"/>
<rect x="1361.2" y="304.38" width="5.8" height="4.8" fill="#2ca02c"/>
<rect x="966.8" y="315.45" width="7.2" height="4.8" fill="#ff7f0e"/>
<rect x="974" y="315.45" width="4.2" height="4.8" fill="#1f77b4"/>
<rect x="978.2" y="315.45" width="18" height="4.8" fill="#d62728"/>
<rect x="996.2" y="315.45" width="1.5" height="4.8" fill="#2ca02c"/>
<rect x="1017.2" y="315.45" width="6" height="4.8" fill="#ff7f0e"/>
<rect x="1023.2" y="315.45" width="3" height="4.8" fill="#1f77b4"/>
<rect x="1026.2" y="315.45" width="4.8" height="4.8" fill="#9467bd"/>
<rect x="1031" y="315.45" width="4.8" height="4.8" fill="#d62728"/>
<rect x="1035.8" y="315.45" width="2.4" height="4.8" fill="#2ca02c"/>
<rect x="1082" y="315.45" width="11.2" height="4.8" fill="#ff7f0e"/>
<rect x="1093.2" y="315.45" width="3.8" height="4.8" fill="#1f77b4"/>
<rect x="1097" y="315.45" width="9.7" height="4.8" fill="#d62728"/>
<rect x="1106.7" y="315.45" width="2" height="4.8" fill="#2ca02c"/>
<rect x="1140.2" y="315.45" width="7.8" height="4.8" fill="#ff7f0e"/>
<rect x="1148" y="315.45" width="5.7" height="4.8" fill="#1f77b4"/>
<rect x="1153.7" y="315.45" width="10.5" height="4.8" fill="#d62728"/>
<rect x="1164.2" y="315.45" width="2.5" height="4.8" fill="#2ca02c"/>
<rect x="1191.8" y="315.45" width="13.2" height="4.8" fill="#ff7f0e"/>
<rect x="1205" y="315.45" width="4.2" height="4.8" fill="#1f77b4"/>
<rect x="1209.2" y="315.45" width="13.8" height="4.8" fill="#d62728"/>
<rect x="1223" y="315.45" width="2.2" height="4.8" fill="#2ca02c"/>
<rect x="1239.8" y="315.45" width="12.9" height="4.8" fill="#ff7f0e"/>
<rect x="1252.7" y="315.45" width="31.8" height="4.8" fill="#1f77b4"/>
<rect x="1284.5" y="315.45" width="8.7" height="4.8" fill="#d62728"/>
<rect x="1293.2" y="315.45" width="27" height="4.8" fill="#2ca02c"/>
<rect x="1011.8" y="326.52" width="12" height="4.8" fill="#ff7f0e"/>
<rect x="1023.8" y="326.52" width="3.9" height="4.8" fill="#1f77b4"/>
<rect x="1027.7" y="326.52" width="8.1" height="4.8" fill="#9467bd"/>
<rect x="1035.8" y="326.52" width="13.2" height="4.8" fill="#d62728"/>
<rect x="1049" y="326.52" width="2.2" height="4.8" fill="#2ca02c"/>
<rect x="1082" y="326.52" width="12.7" height="4.8" fill="#ff7f0e"/>
<rect x="1094.7" y="326.52" width="4.5" height="4.8" fill="#1f77b4"/>
<rect x="1099.2" y="326.52" width="7.5" height="4.8" fill="#9467bd"/>
<rect x="1106.7" y="326.52" width="9.5" height="4.8" fill="#d62728"/>
<rect x="1116.2" y="326.52" width="2.1" height="4.8" fill="#2ca02c"/>
<rect x="1283" y="326.52" width="9.7" height="4.8" fill="#ff7f0e"/>
<rect x="1292.7" y="326.52" width="19.1" height="4.8" fill="#1f77b4"/>
<rect x="1311.8" y="326.52" width="4.9" height="4.8" fill="#9467bd"/>
<rect x="1316.7" y="326.52" width="20" height="4.8" fill="#d62728"/>
<rect x="1336.7" y="326.52" width="16.1" height="4.8" fill="#2ca02c"/>
<rect x="1116.8" y="337.59" width="7.9" height="4.8" fill="#ff7f0e"/>
<rect x="1124.7" y="337.59" width="7.1" height="4.8" fill="#1f77b4"/>
<rect x="1131.8" y="337.59" width="6.9" height="4.8" fill="#d62728"/>
<rect x="1138.7" y="337.59" width="7" height="4.8" fill="#2ca02c"/>
<rect x="1152.2" y="337.59" width="14.5" height="4.8" fill="#ff7f0e"/>
<rect x="1166.7" y="337.59" width="6" height="4.8" fill="#1f77b4"/>
<rect x="1172.7" y="337.59" width="7.5" height="4.8" fill="#d62728"/>
<rect x="1180.2" y="337.59" width="2.6" height="4.8" fill="#2ca02c"/>
<rect x="1213.7" y="337.59" width="5.5" height="4.8" fill="#ff7f0e"/>
<rect x="1219.2" y="337.59" width="13.1" height="4.8" fill="#1f77b4"/>
<rect x="1232.3" y="337.59" width="40.5" height="4.8" fill="#d62728"/>
<rect x="1272.8" y="337.59" width="12.4" height="4.8" fill="#2ca02c"/>
<rect x="1293.2" y="337.59" width="4.8" height="4.8" fill="#ff7f0e"/>
<rect x="1298" y="337.59" width="19.8" height="4.8" fill="#1f77b4"/>
<rect x="1317.8" y="337.59" width="19.2" height="4.8" fill="#9467bd"/>
<rect x="1337" y="337.59" width="2.2" height="4.8" fill="#d62728"/>
<rect x="1339.2" y="337.59" width="16.5" height="4.8" fill="#2ca02c"/>
<rect x="1361" y="337.59" width="5.8" height="4.8" fill="#ff7f0e"/>
<rect x="1366.8" y="337.59" width="17.8" height="4.8" fill="#1f77b4"/>
<rect x="1384.6" y="337.59" width="14.4" height="4.8" fill="#d62728"/>
<rect x="1399" y="337.59" width="15" height="4.8" fill="#2ca02c"/>
<rect x="1344" y="348.66" width="5.8" height="4.8" fill="#ff7f0e"/>
<rect x="1349.8" y="348.66" width="13.3" height="4.8" fill="#1f77b4"/>
<rect x="1363.1" y="348.66" width="43.7" height="4.8" fill="#d62728"/>
<rect x="1406.8" y="348.66" width="10.4" height="4.8" fill="#2ca02c"/>
<rect x="1418.7" y="348.66" width="6.1" height="4.8" fill="#ff7f0e"/>
<rect x="1424.8" y="348.66" width="12" height="4.8" fill="#1f77b4"/>
<rect x="1436.8" y="348.66" width="11.4" height="4.8" fill="#d62728"/>
<rect x="1448.2" y="348.66" width="12" height="4.8" fill="#2ca02c"/>
<rect x="977" y="359.73" width="6.3" height="4.8" fill="#ff7f0e"/>
<rect x="983.3" y="359.73" width="10.5" height="4.8" fill="#1f77b4"/>
<rect x="993.8" y="359.73" width="9.9" height="4.8" fill="#d62728"/>
<rect x="1003.7" y="359.73" width="10.5" height="4.8" fill="#2ca02c"/>
<rect x="1376" y="359.73" width="7.9" height="4.8" fill="#ff7f0e"/>
<rect x="1383.9" y="359.73" width="12.5" height="4.8" fill="#1f77b4"/>
<rect x="1396.4" y="359.73" width="53.6" height="4.8" fill="#d62728"/>
<rect x="1450" y="359.73" width="13.8" height="4.8" fill="#2ca02c"/>
<rect x="981.8" y="370.8" width="6.9" height="4.8" fill="#ff7f0e"/>
<rect x="988.7" y="370.8" width="3.6" height="4.8" fill="#1f77b4"/>
<rect x="992.3" y="370.8" width="3.4" height="4.8" fill="#9467bd"/>
<rect x="995.7" y="370.8" width="16.5" height="4.8" fill="#d62728"/>
<rect x="1012.2" y="370.8" width="2.3" height="4.8" fill="#2ca02c"/>
<rect x="1017.5" y="370.8" width="9.3" height="4.8" fill="#ff7f0e"/>
<rect x="1026.8" y="370.8" width="3.4" height="4.8" fill="#1f77b4"/>
<rect x="1030.2" y="370.8" width="23.6" height="4.8" fill="#9467bd"/>
<rect x="1053.8" y="370.8" width="5.7" height="4.8" fill="#d62728"/>
<rect x="1059.5" y="370.8" width="2.7" height="4.8" fill="#2ca02c"/>
<rect x="1084.2" y="370.8" width="16.5" height="4.8" fill="#ff7f0e"/>
<rect x="1100.7" y="370.8" width="4.1" height="4.8" fill="#1f77b4"/>
<rect x="1104.8" y="370.8" width="10.9" height="4.8" fill="#9467bd"/>
<rect x="1115.7" y="370.8" width="16.5" height="4.8" fill="#d62728"/>
<rect x="1132.2" y="370.8" width="3.8" height="4.8" fill="#2ca02c"/>
<rect x="1289" y="370.8" width="9.7" height="4.8" fill="#ff7f0e"/>
<rect x="1298.7" y="370.8" width="13.5" height="4.8" fill="#1f77b4"/>
<rect x="1312.2" y="370.8" width="93.9" height="4.8" fill="#d62728"/>
<rect x="1406.1" y="370.8" width="11.1" height="4.8" fill="#2ca02c"/>
<rect x="1220" y="381.87" width="9.7" height="4.8" fill="#ff7f0e"/>
<rect x="1229.7" y="381.87" width="10.5" height="4.8" fill="#1f77b4"/>
<rect x="1240.2" y="381.87" width="70.5" height="4.8" fill="#d62728"/>
<rect x="1310.7" y="381.87" width="12.5" height="4.8" fill="#2ca02c"/>
<rect x="992.4" y="443.6" width="99.2" height="19.4" fill="#ff7f0e"/>
<rect x="1091.6" y="443.6" width="99.4" height="19.4" fill="#1f77b4"/>
<rect x="1191" y="443.6" width="99" height="19.4" fill="#d62728"/>
<rect x="1290" y="443.6" width="98.6" height="19.4" fill="#2ca02c"/>
<rect x="1024.4" y="484.3" width="99.4" height="20.3" fill="#ff7f0e"/>
<rect x="1123.8" y="484.3" width="99.4" height="20.3" fill="#1f77b4"/>
<rect x="1223.2" y="484.3" width="68.7" height="20.3" fill="#9467bd"/>
<rect x="1291.9" y="484.3" width="99.2" height="20.3" fill="#d62728"/>
<rect x="1391.1" y="484.3" width="98.5" height="20.3" fill="#2ca02c"/>
<line x1="1222.6" y1="467.4" x2="1222.6" y2="484.3" stroke="#111" stroke-width="2" stroke-dasharray="7.5,3.5"/>
<line x1="1289.6" y1="467.4" x2="1289.6" y2="484.3" stroke="#111" stroke-width="2" stroke-dasharray="7.5,3.5"/>
</svg>
<div class="a" style="z-index:5;left:883px;top:146.8px;width:29.1px;height:241.9px;background:repeating-conic-gradient(#fff 0 25%,#000 0 50%) 0 0/5.82px 5.82px"></div>
<div class="a" style="left:324.11px;top:35.99px;font-size:33.23px;line-height:49.85px;color:#262324;font-weight:400;transform:scaleX(1.017);transform-origin:0 0;-webkit-text-stroke:0.6px #262324;">智能排产模型</div>
<div class="a" style="left:1103.56px;top:35.96px;font-size:33.95px;line-height:50.92px;color:#262324;font-weight:400;transform:scaleX(0.992);transform-origin:0 0;-webkit-text-stroke:0.6px #262324;">车辆调度模型</div>
<div class="a" style="left:55.64px;top:140.46px;font-size:16.53px;line-height:24.79px;color:#fff;font-weight:400;transform:scaleX(0.882);transform-origin:0 0;">数据源</div>
<div class="a" style="left:65.87px;top:267.65px;font-size:15.86px;line-height:23.79px;color:#fff;font-weight:400;transform:scaleX(0.783);transform-origin:0 0;">ERP</div>
<div class="a" style="left:62.88px;top:321.79px;font-size:16.55px;line-height:24.83px;color:#fff;font-weight:400;transform:scaleX(0.875);transform-origin:0 0;">SCM</div>
<div class="a" style="left:61px;top:375.48px;font-size:17.38px;line-height:26.07px;color:#fff;font-weight:400;transform:scaleX(0.849);transform-origin:0 0;">WMS</div>
<div class="a" style="left:778px;top:143.32px;font-size:14.74px;line-height:22.11px;color:#fff;font-weight:400;transform:scaleX(0.996);transform-origin:0 0;">生产</div>
<div class="a" style="left:776.96px;top:320.63px;font-size:17.79px;line-height:26.69px;color:#fff;font-weight:400;transform:scaleX(0.781);transform-origin:0 0;">MES</div>
<div class="a" style="left:113.1px;top:215.14px;font-size:13.03px;line-height:19.54px;color:#222;font-weight:400;transform:scaleX(0.866);transform-origin:0 0;-webkit-text-stroke:0.2px #222;">API接口</div>
<div class="a" style="left:717.4px;top:215.52px;font-size:12.72px;line-height:19.08px;color:#222;font-weight:400;transform:scaleX(0.887);transform-origin:0 0;-webkit-text-stroke:0.2px #222;">API接口</div>
<div class="a" style="left:103.39px;top:428.87px;font-size:12.1px;line-height:18.15px;color:#222;font-weight:400;transform:scaleX(0.835);transform-origin:0 0;-webkit-text-stroke:0.2px #222;">更新采购计划</div>
<div class="a" style="left:103.7px;top:445.81px;font-size:11.51px;line-height:17.27px;color:#222;font-weight:400;transform:scaleX(0.874);transform-origin:0 0;-webkit-text-stroke:0.2px #222;">订单交货计划</div>
<div class="a" style="left:717.89px;top:428.52px;font-size:12.74px;line-height:19.11px;color:#222;font-weight:400;transform:scaleX(0.801);transform-origin:0 0;-webkit-text-stroke:0.2px #222;">更新设备</div>
<div class="a" style="left:718px;top:445.53px;font-size:11.89px;line-height:17.84px;color:#222;font-weight:400;transform:scaleX(0.865);transform-origin:0 0;-webkit-text-stroke:0.2px #222;">生产状态</div>
<div class="a" style="left:528.6px;top:281.02px;font-size:11.9px;line-height:17.85px;color:#222;font-weight:400;transform:scaleX(0.906);transform-origin:0 0;-webkit-text-stroke:0.2px #222;">APS高级排程</div>
<div class="a" style="left:535.54px;top:295.63px;font-size:12.68px;line-height:19.02px;color:#222;font-weight:400;transform:scaleX(0.887);transform-origin:0 0;-webkit-text-stroke:0.2px #222;">(独有算法)</div>
<div class="a" style="left:625.2px;top:165.67px;font-size:12.92px;line-height:19.38px;color:#222;font-weight:400;transform:scaleX(0.870);transform-origin:0 0;-webkit-text-stroke:0.2px #222;">排程结果</div>
<div class="a" style="left:186.75px;top:321.75px;font-size:12.2px;line-height:18.29px;color:#fff;font-weight:400;transform:scaleX(1.039);transform-origin:0 0;">资源(设备、模具、人、日历...)</div>
<div class="a" style="left:187.7px;top:353.24px;font-size:13.44px;line-height:20.15px;color:#fff;font-weight:400;transform:scaleX(0.947);transform-origin:0 0;">约束模型：订单优先级、资源优先级、是否加班、工时等。</div>
<div class="a" style="left:185.72px;top:404.74px;font-size:11.8px;line-height:17.7px;color:#fff;font-weight:400;transform:scaleX(0.957);transform-origin:0 0;">工序制程</div>
<div class="a" style="left:299.42px;top:404.87px;font-size:11.7px;line-height:17.55px;color:#fff;font-weight:400;transform:scaleX(0.952);transform-origin:0 0;">普通制程</div>
<div class="a" style="left:357.92px;top:404.87px;font-size:11.7px;line-height:17.55px;color:#fff;font-weight:400;transform:scaleX(0.959);transform-origin:0 0;">委外制程</div>
<div class="a" style="left:417.22px;top:404.87px;font-size:11.7px;line-height:17.55px;color:#fff;font-weight:400;transform:scaleX(0.941);transform-origin:0 0;">普通制程</div>
<div class="a" style="left:476.7px;top:404.5px;font-size:12px;line-height:18px;color:#fff;font-weight:400;transform:scaleX(0.922);transform-origin:0 0;">组装制程</div>
<div class="a" style="left:618.92px;top:220.87px;font-size:12.92px;line-height:19.38px;color:#fff;font-weight:400;transform:scaleX(0.864);transform-origin:0 0;">工单计划表</div>
<div class="a" style="left:618.92px;top:285.18px;font-size:12.92px;line-height:19.38px;color:#fff;font-weight:400;transform:scaleX(0.864);transform-origin:0 0;">工序计划表</div>
<div class="a" style="left:618.92px;top:349.62px;font-size:12.92px;line-height:19.38px;color:#fff;font-weight:400;transform:scaleX(0.864);transform-origin:0 0;">交货计划表</div>
<div class="a" style="left:618.92px;top:413.92px;font-size:12.92px;line-height:19.38px;color:#fff;font-weight:400;transform:scaleX(0.864);transform-origin:0 0;">备料计划表</div>
<div class="a" style="left:613.06px;top:478.77px;font-size:12.92px;line-height:19.38px;color:#fff;font-weight:400;transform:scaleX(0.864);transform-origin:0 0;">产能负荷分析</div>
<div class="a" style="left:191.51px;top:463.85px;font-size:14px;line-height:21px;color:#fff;font-weight:400;transform:scaleX(0.950);transform-origin:0 0;">A</div>
<div class="a" style="left:225.84px;top:442.85px;font-size:14px;line-height:21px;color:#fff;font-weight:400;transform:scaleX(0.950);transform-origin:0 0;">B</div>
<div class="a" style="left:225.84px;top:485.13px;font-size:13.52px;line-height:20.28px;color:#fff;font-weight:400;transform:scaleX(0.950);transform-origin:0 0;">C</div>
<div class="a" style="left:259.01px;top:463.85px;font-size:14px;line-height:21px;color:#fff;font-weight:400;transform:scaleX(0.950);transform-origin:0 0;">D</div>
<div class="a" style="left:318.44px;top:463.95px;font-size:14px;line-height:21px;color:#fff;font-weight:400;transform:scaleX(0.950);transform-origin:0 0;">E</div>
<div class="a" style="left:435.68px;top:463.85px;font-size:14px;line-height:21px;color:#fff;font-weight:400;transform:scaleX(0.950);transform-origin:0 0;">F</div>
<div class="a" style="left:493.98px;top:464.03px;font-size:13.52px;line-height:20.28px;color:#fff;font-weight:400;transform:scaleX(0.950);transform-origin:0 0;">G</div>
<div class="a" style="left:363.02px;top:467.24px;font-size:10.63px;line-height:15.95px;color:#fff;font-weight:400;transform:scaleX(1.039);transform-origin:0 0;">加工商</div>
<div class="a" style="left:218.13px;top:152.66px;font-size:15.79px;line-height:23.68px;color:#fff;font-weight:400;transform:scaleX(0.853);transform-origin:0 0;-webkit-text-stroke:0.3px #fff;">订</div>
<div class="a" style="left:217.96px;top:174.75px;font-size:15.79px;line-height:23.68px;color:#fff;font-weight:400;transform:scaleX(0.853);transform-origin:0 0;-webkit-text-stroke:0.3px #fff;">单</div>
<div class="a" style="left:263.23px;top:163.66px;font-size:15.79px;line-height:23.68px;color:#fff;font-weight:400;transform:scaleX(0.853);transform-origin:0 0;-webkit-text-stroke:0.3px #fff;">预</div>
<div class="a" style="left:263.4px;top:178.91px;font-size:15.79px;line-height:23.68px;color:#fff;font-weight:400;transform:scaleX(0.853);transform-origin:0 0;-webkit-text-stroke:0.3px #fff;">测</div>
<div class="a" style="left:263.06px;top:197.55px;font-size:15.79px;line-height:23.68px;color:#fff;font-weight:400;transform:scaleX(0.853);transform-origin:0 0;-webkit-text-stroke:0.3px #fff;">单</div>
<div class="a" style="left:316.93px;top:164.15px;font-size:15.79px;line-height:23.68px;color:#fff;font-weight:400;transform:scaleX(0.853);transform-origin:0 0;-webkit-text-stroke:0.3px #fff;">计</div>
<div class="a" style="left:317.1px;top:180.31px;font-size:15.79px;line-height:23.68px;color:#fff;font-weight:400;transform:scaleX(0.853);transform-origin:0 0;-webkit-text-stroke:0.3px #fff;">划</div>
<div class="a" style="left:316.76px;top:198.9px;font-size:15.79px;line-height:23.68px;color:#fff;font-weight:400;transform:scaleX(0.853);transform-origin:0 0;-webkit-text-stroke:0.3px #fff;">单</div>
<div class="a" style="left:366.66px;top:155.31px;font-size:15.79px;line-height:23.68px;color:#fff;font-weight:400;transform:scaleX(0.853);transform-origin:0 0;-webkit-text-stroke:0.3px #fff;">在</div>
<div class="a" style="left:367px;top:171.11px;font-size:15.79px;line-height:23.68px;color:#fff;font-weight:400;transform:scaleX(0.853);transform-origin:0 0;-webkit-text-stroke:0.3px #fff;">制</div>
<div class="a" style="left:366.83px;top:189.25px;font-size:15.79px;line-height:23.68px;color:#fff;font-weight:400;transform:scaleX(0.853);transform-origin:0 0;-webkit-text-stroke:0.3px #fff;">工</div>
<div class="a" style="left:366.66px;top:205.2px;font-size:15.79px;line-height:23.68px;color:#fff;font-weight:400;transform:scaleX(0.853);transform-origin:0 0;-webkit-text-stroke:0.3px #fff;">单</div>
<div class="a" style="left:422.39px;top:170.2px;font-size:15.79px;line-height:23.68px;color:#fff;font-weight:400;transform:scaleX(0.853);transform-origin:0 0;-webkit-text-stroke:0.3px #fff;">库</div>
<div class="a" style="left:422.56px;top:191.61px;font-size:15.79px;line-height:23.68px;color:#fff;font-weight:400;transform:scaleX(0.853);transform-origin:0 0;-webkit-text-stroke:0.3px #fff;">存</div>
<div class="a" style="left:470.97px;top:162.23px;font-size:16.71px;line-height:25.07px;color:#fff;font-weight:400;transform:scaleX(0.979);transform-origin:0 0;-webkit-text-stroke:0.2px #fff;">B</div>
<div class="a" style="left:470.36px;top:180.82px;font-size:16.71px;line-height:25.07px;color:#fff;font-weight:400;transform:scaleX(0.979);transform-origin:0 0;-webkit-text-stroke:0.2px #fff;">O</div>
<div class="a" style="left:469.95px;top:196.13px;font-size:16.71px;line-height:25.07px;color:#fff;font-weight:400;transform:scaleX(0.979);transform-origin:0 0;-webkit-text-stroke:0.2px #fff;">M</div>
<div class="a" style="left:967.4px;top:425.21px;font-size:10.77px;line-height:16.15px;color:#2a2a2a;font-weight:400;transform:scaleX(1.073);transform-origin:0 0;-webkit-text-stroke:0.2px #2a2a2a;">生产开始时间</div>
<div class="a" style="left:1065.61px;top:425.54px;font-size:10.5px;line-height:15.75px;color:#2a2a2a;font-weight:400;transform:scaleX(1.093);transform-origin:0 0;-webkit-text-stroke:0.2px #2a2a2a;">离开站点时间</div>
<div class="a" style="left:1164.51px;top:425.21px;font-size:10.77px;line-height:16.15px;color:#2a2a2a;font-weight:400;transform:scaleX(1.078);transform-origin:0 0;-webkit-text-stroke:0.2px #2a2a2a;">进入工地时间</div>
<div class="a" style="left:1263.41px;top:425.48px;font-size:10.77px;line-height:16.15px;color:#2a2a2a;font-weight:400;transform:scaleX(1.078);transform-origin:0 0;-webkit-text-stroke:0.2px #2a2a2a;">离开工地时间</div>
<div class="a" style="left:1362.61px;top:425.21px;font-size:10.77px;line-height:16.15px;color:#2a2a2a;font-weight:400;transform:scaleX(1.078);transform-origin:0 0;-webkit-text-stroke:0.2px #2a2a2a;">返回站点时间</div>
<div class="a" style="left:999.2px;top:516.88px;font-size:10.87px;line-height:16.31px;color:#2a2a2a;font-weight:400;transform:scaleX(1.065);transform-origin:0 0;-webkit-text-stroke:0.2px #2a2a2a;">生产开始时间</div>
<div class="a" style="left:1091.11px;top:517.22px;font-size:10.6px;line-height:15.9px;color:#2a2a2a;font-weight:400;transform:scaleX(1.095);transform-origin:0 0;-webkit-text-stroke:0.2px #2a2a2a;">离开站点时间</div>
<div class="a" style="left:1188.61px;top:516.88px;font-size:10.87px;line-height:16.31px;color:#2a2a2a;font-weight:400;transform:scaleX(1.068);transform-origin:0 0;-webkit-text-stroke:0.2px #2a2a2a;">进入工地时间</div>
<div class="a" style="left:1363.91px;top:517.15px;font-size:10.87px;line-height:16.31px;color:#2a2a2a;font-weight:400;transform:scaleX(1.074);transform-origin:0 0;-webkit-text-stroke:0.2px #2a2a2a;">离开工地时间</div>
<div class="a" style="left:1463.11px;top:516.88px;font-size:10.87px;line-height:16.31px;color:#2a2a2a;font-weight:400;transform:scaleX(1.077);transform-origin:0 0;-webkit-text-stroke:0.2px #2a2a2a;">返回站点时间</div>
<div class="a" style="left:1272.01px;top:510.48px;font-size:11.68px;line-height:17.53px;color:#2a2a2a;font-weight:400;transform:scaleX(0.988);transform-origin:0 0;-webkit-text-stroke:0.2px #2a2a2a;">上一辆车</div>
<div class="a" style="left:1272.01px;top:524.34px;font-size:11.38px;line-height:17.08px;color:#2a2a2a;font-weight:400;transform:scaleX(1.008);transform-origin:0 0;-webkit-text-stroke:0.2px #2a2a2a;">离开工地</div>
<div class="a" style="left:1012.9px;top:443.3px;font-size:13.8px;line-height:20.7px;color:#fff;font-weight:700;transform:scaleX(1.000);transform-origin:0 0;letter-spacing:1.46px;">生产时间</div>
<div class="a" style="left:1112.02px;top:443.3px;font-size:13.8px;line-height:20.7px;color:#fff;font-weight:700;transform:scaleX(1.000);transform-origin:0 0;letter-spacing:1.46px;">运输时间</div>
<div class="a" style="left:1211.22px;top:443.3px;font-size:13.8px;line-height:20.7px;color:#fff;font-weight:700;transform:scaleX(1.000);transform-origin:0 0;letter-spacing:1.46px;">卸料时间</div>
<div class="a" style="left:1310.02px;top:443.3px;font-size:13.8px;line-height:20.7px;color:#fff;font-weight:700;transform:scaleX(1.000);transform-origin:0 0;letter-spacing:1.46px;">返回时间</div>
<div class="a" style="left:1044.99px;top:484.45px;font-size:13.8px;line-height:20.7px;color:#fff;font-weight:700;transform:scaleX(1.000);transform-origin:0 0;letter-spacing:1.46px;">生产时间</div>
<div class="a" style="left:1144.22px;top:484.45px;font-size:13.8px;line-height:20.7px;color:#fff;font-weight:700;transform:scaleX(1.000);transform-origin:0 0;letter-spacing:1.46px;">运输时间</div>
<div class="a" style="left:1228.27px;top:484.45px;font-size:13.8px;line-height:20.7px;color:#fff;font-weight:700;transform:scaleX(1.000);transform-origin:0 0;letter-spacing:1.46px;">等待时间</div>
<div class="a" style="left:1312.22px;top:484.45px;font-size:13.8px;line-height:20.7px;color:#fff;font-weight:700;transform:scaleX(1.000);transform-origin:0 0;letter-spacing:1.46px;">卸料时间</div>
<div class="a" style="left:1411.07px;top:484.45px;font-size:13.8px;line-height:20.7px;color:#fff;font-weight:700;transform:scaleX(1.000);transform-origin:0 0;letter-spacing:1.46px;">返回时间</div>
<div class="a" style="left:951.22px;top:394.69px;font-size:8.55px;line-height:12.83px;color:#5c6a7e;font-weight:700;transform:scaleX(1.333);transform-origin:0 0;">00:00</div>
<div class="a" style="left:1070.46px;top:394.69px;font-size:8.55px;line-height:12.83px;color:#5c6a7e;font-weight:700;transform:scaleX(1.333);transform-origin:0 0;">06:00</div>
<div class="a" style="left:1190.32px;top:394.69px;font-size:8.55px;line-height:12.83px;color:#5c6a7e;font-weight:700;transform:scaleX(1.333);transform-origin:0 0;">12:00</div>
<div class="a" style="left:1309.52px;top:394.69px;font-size:8.55px;line-height:12.83px;color:#5c6a7e;font-weight:700;transform:scaleX(1.333);transform-origin:0 0;">18:00</div>
<div class="a" style="left:1428.87px;top:394.69px;font-size:8.55px;line-height:12.83px;color:#5c6a7e;font-weight:700;transform:scaleX(1.333);transform-origin:0 0;">00:00</div>
<div class="a" style="left:936.33px;top:404.55px;font-size:8.67px;line-height:13px;color:#5c6a7e;font-weight:700;transform:scaleX(1.226);transform-origin:0 0;">Sep 1, 2021</div>
<div class="a" style="left:1413.93px;top:404.55px;font-size:8.67px;line-height:13px;color:#5c6a7e;font-weight:700;transform:scaleX(1.231);transform-origin:0 0;">Sep 2, 2021</div>
<div class="a" style="left:908.69px;top:145.79px;font-size:8.83px;line-height:13.24px;color:#566a86;font-weight:400;transform:scaleX(1.230);transform-origin:0 0;">0987</div>
<div class="a" style="left:908.69px;top:156.87px;font-size:8.83px;line-height:13.24px;color:#566a86;font-weight:400;transform:scaleX(1.230);transform-origin:0 0;">1288</div>
<div class="a" style="left:908.69px;top:167.95px;font-size:8.83px;line-height:13.24px;color:#566a86;font-weight:400;transform:scaleX(1.230);transform-origin:0 0;">0173</div>
<div class="a" style="left:908.69px;top:179.03px;font-size:8.83px;line-height:13.24px;color:#566a86;font-weight:400;transform:scaleX(1.230);transform-origin:0 0;">1071</div>
<div class="a" style="left:908.69px;top:190.11px;font-size:8.83px;line-height:13.24px;color:#566a86;font-weight:400;transform:scaleX(1.230);transform-origin:0 0;">1073</div>
<div class="a" style="left:908.69px;top:201.19px;font-size:8.83px;line-height:13.24px;color:#566a86;font-weight:400;transform:scaleX(1.230);transform-origin:0 0;">1606</div>
<div class="a" style="left:908.69px;top:212.27px;font-size:8.83px;line-height:13.24px;color:#566a86;font-weight:400;transform:scaleX(1.230);transform-origin:0 0;">1872</div>
<div class="a" style="left:908.69px;top:223.35px;font-size:8.83px;line-height:13.24px;color:#566a86;font-weight:400;transform:scaleX(1.230);transform-origin:0 0;">0232</div>
<div class="a" style="left:908.69px;top:234.43px;font-size:8.83px;line-height:13.24px;color:#566a86;font-weight:400;transform:scaleX(1.230);transform-origin:0 0;">7467</div>
<div class="a" style="left:908.69px;top:245.51px;font-size:8.83px;line-height:13.24px;color:#566a86;font-weight:400;transform:scaleX(1.230);transform-origin:0 0;">5327</div>
<div class="a" style="left:908.41px;top:256.59px;font-size:8.83px;line-height:13.24px;color:#566a86;font-weight:400;transform:scaleX(1.230);transform-origin:0 0;">2015</div>
<div class="a" style="left:908.69px;top:267.67px;font-size:8.83px;line-height:13.24px;color:#566a86;font-weight:400;transform:scaleX(1.230);transform-origin:0 0;">1349</div>
<div class="a" style="left:908.69px;top:278.75px;font-size:8.83px;line-height:13.24px;color:#566a86;font-weight:400;transform:scaleX(1.230);transform-origin:0 0;">3136</div>
<div class="a" style="left:908.69px;top:289.83px;font-size:8.83px;line-height:13.24px;color:#566a86;font-weight:400;transform:scaleX(1.230);transform-origin:0 0;">5957</div>
<div class="a" style="left:908.69px;top:300.91px;font-size:8.83px;line-height:13.24px;color:#566a86;font-weight:400;transform:scaleX(1.230);transform-origin:0 0;">0202</div>
<div class="a" style="left:908.41px;top:311.99px;font-size:8.83px;line-height:13.24px;color:#566a86;font-weight:400;transform:scaleX(1.230);transform-origin:0 0;">0765</div>
<div class="a" style="left:908.69px;top:323.07px;font-size:8.83px;line-height:13.24px;color:#566a86;font-weight:400;transform:scaleX(1.230);transform-origin:0 0;">3726</div>
<div class="a" style="left:908.69px;top:334.15px;font-size:8.83px;line-height:13.24px;color:#566a86;font-weight:400;transform:scaleX(1.230);transform-origin:0 0;">1376</div>
<div class="a" style="left:908.69px;top:345.23px;font-size:8.83px;line-height:13.24px;color:#566a86;font-weight:400;transform:scaleX(1.230);transform-origin:0 0;">1067</div>
<div class="a" style="left:908.69px;top:356.31px;font-size:8.83px;line-height:13.24px;color:#566a86;font-weight:400;transform:scaleX(1.230);transform-origin:0 0;">1519</div>
<div class="a" style="left:908.69px;top:367.39px;font-size:8.83px;line-height:13.24px;color:#566a86;font-weight:400;transform:scaleX(1.230);transform-origin:0 0;">1076</div>
<div class="a" style="left:908.69px;top:378.47px;font-size:8.83px;line-height:13.24px;color:#566a86;font-weight:400;transform:scaleX(1.230);transform-origin:0 0;">3639</div>
</body></html>
